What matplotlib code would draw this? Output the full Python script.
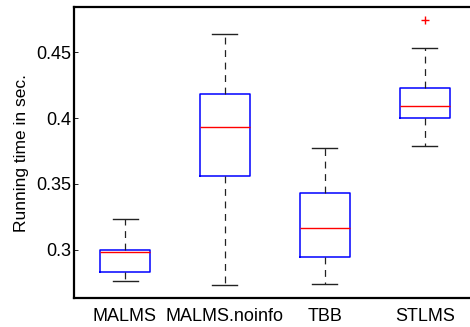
import matplotlib
matplotlib.use("Agg")
import matplotlib.pyplot as plt

plt.rcParams['font.family'] = ['Liberation Sans', 'DejaVu Sans']

categories = ["MALMS", "MALMS.noinfo", "TBB", "STLMS"]
whislo = [0.2765, 0.2733, 0.2740, 0.3790]
q1 = [0.2831, 0.3558, 0.2947, 0.4000]
med = [0.2982, 0.3932, 0.3164, 0.4089]
q3 = [0.3000, 0.4180, 0.3432, 0.4230]
whishi = [0.3237, 0.4636, 0.3775, 0.4533]
fliers = [[], [], [], [0.4742]]
yticks = [0.3, 0.35, 0.4, 0.45]
ytick_labels = ["0.3", "0.35", "0.4", "0.45"]

W, H = 470, 327
fig = plt.figure(figsize=(W / 100, H / 100), dpi=100)
left, right, top, bottom = 74, 475, 7, 298
ax = fig.add_axes([left / W, 1 - bottom / H, (right - left) / W, (bottom - top) / H])

stats = []
for i, c in enumerate(categories):
    stats.append(dict(label=c, whislo=whislo[i], q1=q1[i], med=med[i], q3=q3[i],
                      whishi=whishi[i], fliers=fliers[i]))

ax.bxp(stats, positions=[1, 2, 3, 4], widths=0.5, showfliers=True,
       boxprops=dict(color='blue', linewidth=1.1),
       medianprops=dict(color='red', linewidth=1.0),
       whiskerprops=dict(color='#222222', linestyle=(0, (5.5, 4.5)), linewidth=0.9),
       capprops=dict(color='#222222', linewidth=1.0),
       capwidths=0.25,
       flierprops=dict(marker='+', markeredgecolor='red', markersize=6, linestyle='none'))

ax.set_xlim(0.49, 4.5)
ax.set_ylim(0.2634, 0.4843)
ax.set_yticks(yticks)
ax.set_yticklabels(ytick_labels)
ax.set_xticks([1, 2, 3, 4])
ax.set_xticklabels(categories)
ax.tick_params(axis='y', direction='in', length=3, width=0.6, labelsize=13, pad=2)
ax.tick_params(axis='x', length=0, labelsize=13, pad=7)
for s in ax.spines.values():
    s.set_linewidth(1.6)
    s.set_color('black')
ax.set_ylabel("Running time in sec.", fontsize=12.5, labelpad=5)

fig.savefig("out.png", dpi=100)
